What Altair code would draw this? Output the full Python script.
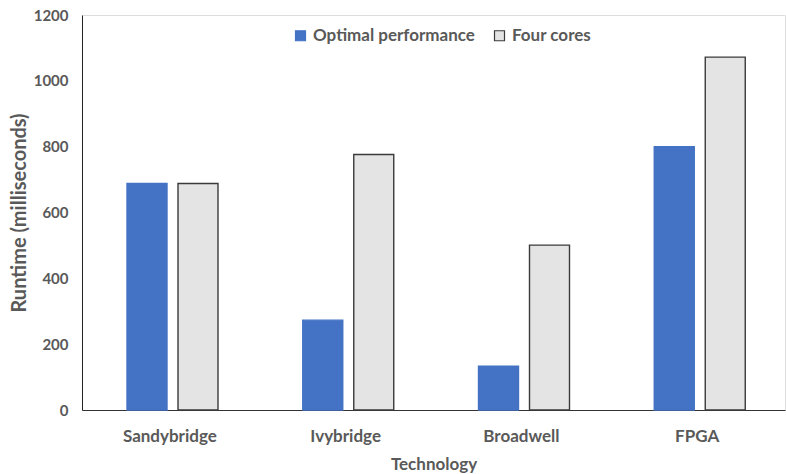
import altair as alt
import pandas as pd

categories = ["Sandybridge", "Ivybridge", "Broadwell", "FPGA"]
series = ["Optimal performance", "Four cores"]
optimal = [688, 273, 133, 800]
four_cores = [688, 776, 501, 1072]
y_ticks = [0, 200, 400, 600, 800, 1000, 1200]

rows = []
for c, o, f in zip(categories, optimal, four_cores):
    rows.append({"Technology": c, "Series": series[0], "Runtime": o})
    rows.append({"Technology": c, "Series": series[1], "Runtime": f})
df = pd.DataFrame(rows)

FONT = "Lato"
GRAY = "#595959"

legend_cfg = dict(title=None, orient="none", direction="horizontal",
                  legendX=210, legendY=12, symbolType="square",
                  symbolSize=100, columnPadding=16, symbolStrokeWidth=1.2,
                  labelLimit=400,
                  labelFont=FONT, labelFontSize=17, labelFontWeight="bold",
                  labelColor=GRAY)

bars = alt.Chart(df).mark_bar(strokeWidth=1.4).encode(
    x=alt.X("Technology:N", sort=categories,
            scale=alt.Scale(paddingInner=0, paddingOuter=0),
            axis=alt.Axis(title="Technology", labelAngle=0, ticks=False,
                          labelPadding=18, titlePadding=12, domainColor="#333333",
                          labelFont=FONT, labelFontSize=17, labelFontWeight="bold",
                          labelColor=GRAY, titleFont=FONT, titleFontSize=17,
                          titleFontWeight="bold", titleColor=GRAY)),
    xOffset=alt.XOffset("Series:N", sort=series,
                        scale=alt.Scale(paddingInner=0.2157, paddingOuter=0.831,
                                        align=0.531)),
    y=alt.Y("Runtime:Q",
            scale=alt.Scale(domain=[0, 1200], nice=False),
            axis=alt.Axis(title="Runtime (milliseconds)", values=y_ticks, grid=False,
                          format="d", ticks=False, labelPadding=14, titlePadding=4,
                          domainColor="#222222",
                          labelFont=FONT, labelFontSize=15, labelFontWeight="bold",
                          labelColor=GRAY, titleFont=FONT, titleFontSize=20,
                          titleFontWeight="bold", titleColor=GRAY)),
    color=alt.Color("Series:N", sort=series,
                    scale=alt.Scale(domain=series, range=["#4472C4", "#e4e4e4"]),
                    legend=alt.Legend(**legend_cfg)),
    stroke=alt.Stroke("Series:N", sort=series,
                      scale=alt.Scale(domain=series, range=["#4472C4", "#3a3a3a"]),
                      legend=alt.Legend(**legend_cfg)),
)

chart = bars.properties(
    width=703, height=395,
    autosize=alt.AutoSizeParams(type="none"),
    padding={"left": 82, "top": 15, "right": 1, "bottom": 64},
).configure_view(stroke=None).configure(background="white")

chart.save("out.html", embed_options={"renderer": "svg", "actions": False})
